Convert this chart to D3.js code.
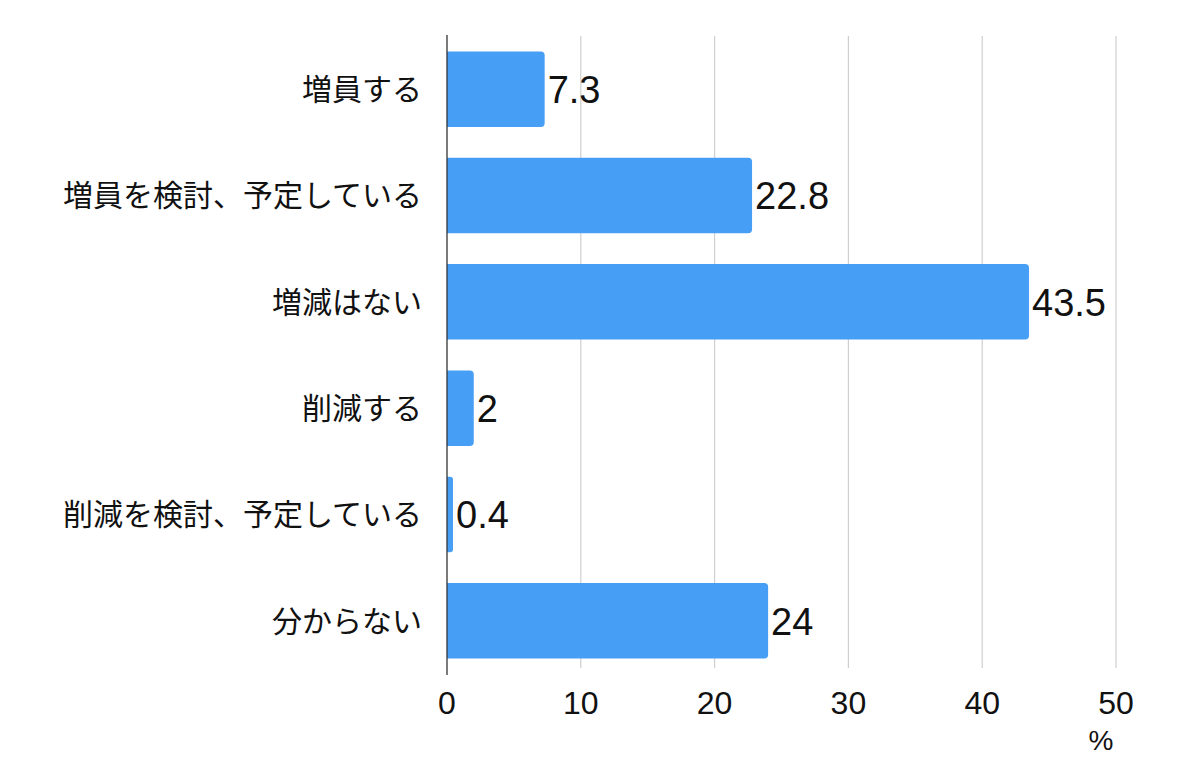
<!DOCTYPE html>
<html>
<head>
<meta charset="utf-8">
<script src="https://cdn.jsdelivr.net/npm/d3@7"></script>
<style>
  body { margin: 0; background: #fff; }
  svg { display: block; font-family: "Noto Sans CJK JP", "Noto Sans", sans-serif; }
  .num { font-family: "Liberation Sans", "DejaVu Sans", sans-serif; }
</style>
</head>
<body>
<div id="chart"></div>
<script>
var categories = ['増員する', '増員を検討、予定している', '増減はない', '削減する', '削減を検討、予定している', '分からない'];
var values = [7.3, 22.8, 43.5, 2, 0.4, 24];
var tickValues = [0, 10, 20, 30, 40, 50];
var unitLabel = '%';

var width = 1200,
    height = 782;

var margin = { left: 447, right: 84, top: 36, bottom: 108 };

var svg = d3.select('#chart').append('svg')
    .attr('width', width)
    .attr('height', height);

var x = d3.scaleLinear()
    .domain([0, 50])
    .range([margin.left, width - margin.right]);

var y = d3.scaleBand()
    .domain(categories)
    .range([margin.top, height - margin.bottom])
    .paddingInner(0.29)
    .paddingOuter(0.145);

// gridlines
svg.append('g')
    .selectAll('line')
    .data(tickValues.slice(1))
    .enter().append('line')
    .attr('x1', function (d) { return x(d); })
    .attr('x2', function (d) { return x(d); })
    .attr('y1', margin.top)
    .attr('y2', height - margin.bottom - 6)
    .attr('stroke', '#cfcfcf')
    .attr('stroke-width', 1.2);

// bars, rounded on the right end only
var rad = 4;
svg.append('g')
    .selectAll('path')
    .data(values)
    .enter().append('path')
    .attr('fill', '#479ef5')
    .attr('d', function (d, i) {
        var x0 = x(0), x1 = Math.max(x(d), x0 + 6),
            y0 = y(categories[i]), h = y.bandwidth(),
            r = Math.min(rad, (x1 - x0) / 2);
        return 'M' + x0 + ',' + y0 +
            'H' + (x1 - r) +
            'Q' + x1 + ',' + y0 + ' ' + x1 + ',' + (y0 + r) +
            'V' + (y0 + h - r) +
            'Q' + x1 + ',' + (y0 + h) + ' ' + (x1 - r) + ',' + (y0 + h) +
            'H' + x0 + 'Z';
    });

// value labels
svg.append('g')
    .selectAll('text')
    .data(values)
    .enter().append('text')
    .attr('class', 'num')
    .attr('x', function (d) { return Math.max(x(d), x(0) + 6) + 3; })
    .attr('y', function (d, i) { return y(categories[i]) + y.bandwidth() / 2; })
    .attr('dy', '0.36em')
    .style('font-size', '38px')
    .style('fill', '#111')
    .text(function (d) { return d; });

// category axis
svg.append('line')
    .attr('x1', x(0)).attr('x2', x(0))
    .attr('y1', margin.top - 1)
    .attr('y2', height - margin.bottom + 1)
    .attr('stroke', '#333')
    .attr('stroke-width', 1.3);

svg.append('g')
    .selectAll('text')
    .data(categories)
    .enter().append('text')
    .attr('x', x(0) - 25)
    .attr('y', function (d) { return y(d) + y.bandwidth() / 2; })
    .attr('dy', '0.36em')
    .attr('text-anchor', 'end')
    .style('font-size', '30px')
    .style('fill', '#111')
    .text(function (d) { return d; });

// value axis tick labels
svg.append('g')
    .selectAll('text')
    .data(tickValues)
    .enter().append('text')
    .attr('class', 'num')
    .attr('x', function (d) { return x(d); })
    .attr('y', 714)
    .attr('text-anchor', 'middle')
    .style('font-size', '32px')
    .style('fill', '#111')
    .text(function (d) { return d; });

svg.append('text')
    .attr('class', 'num')
    .attr('x', x(50) - 15)
    .attr('y', 750)
    .attr('text-anchor', 'middle')
    .style('font-size', '28px')
    .style('fill', '#111')
    .text(unitLabel);
</script>
</body>
</html>
